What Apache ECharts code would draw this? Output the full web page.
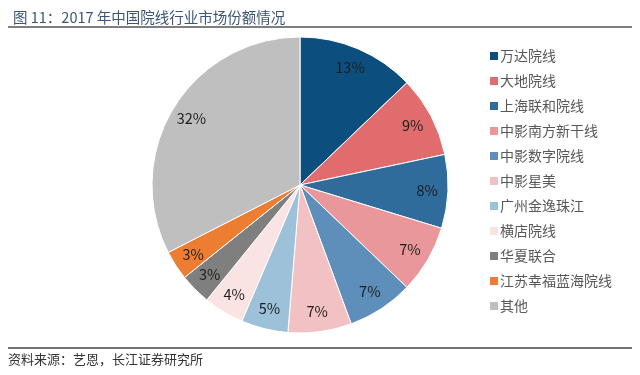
<!DOCTYPE html>
<html>
<head>
<meta charset="utf-8">
<script src="https://cdn.jsdelivr.net/npm/echarts@6/dist/echarts.min.js"></script>
<style>
html,body{margin:0;padding:0;background:#fff;}
#chart{width:640px;height:375px;}
</style>
</head>
<body>
<div id="chart"></div>
<script>
const categories = ['万达院线','大地院线','上海联和院线','中影南方新干线','中影数字院线','中影星美','广州金逸珠江','横店院线','华夏联合','江苏幸福蓝海院线','其他'];
const shares = [12.8, 8.8, 8.0, 7.4, 7.2, 6.9, 5.1, 4.4, 3.4, 3.2, 32.4];
const colors = ['#0c4e7d','#e06c6e','#2f6b9b','#e9979b','#5d8fba','#f2c1c3','#9dc1d9','#f9e3e3','#7f7f7f','#ec7d31','#bfbfbf'];
const titleText = '图 11：2017 年中国院线行业市场份额情况';
const sourceText = '资料来源：艺恩，长江证券研究所';

const font = '"Noto Sans CJK SC", "Noto Sans", sans-serif';
const pieData = categories.map((n, i) => ({name: n, value: shares[i], itemStyle: {color: colors[i]}}));
const labelData = categories.map((n, i) => ({name: n, value: shares[i]}));
const R = 148;

const chart = echarts.init(document.getElementById('chart'), null, {renderer: 'canvas'});
chart.setOption({
  animation: false,
  backgroundColor: '#fff',
  title: {
    text: titleText, left: 8, top: 5,
    textStyle: {fontSize: 14.5, fontWeight: 'normal', color: '#3b5574', fontFamily: font}
  },
  graphic: [
    {type: 'line', shape: {x1: 8, y1: 27, x2: 632, y2: 27}, style: {stroke: '#555', lineWidth: 1.5}},
    {type: 'line', shape: {x1: 8, y1: 348, x2: 632, y2: 348}, style: {stroke: '#444', lineWidth: 1.5}},
    {type: 'text', left: 8, top: 353, style: {text: sourceText, fill: '#333', font: '13px ' + font}}
  ],
  legend: {
    orient: 'vertical', left: 483, top: 44,
    itemWidth: 10, itemHeight: 10, itemGap: 11,
    icon: 'rect',
    data: categories,
    textStyle: {fontSize: 14, color: '#585858', fontFamily: font, padding: [0,0,0,-4], lineHeight: 14}
  },
  series: [
    {
      type: 'pie', name: 'share', center: [300, 185], radius: [0, R],
      startAngle: 90, clockwise: true, silent: true,
      itemStyle: {borderColor: '#fff', borderWidth: 1},
      label: {show: false}, labelLine: {show: false},
      data: pieData
    },
    {
      type: 'pie', name: 'labels', center: [300, 185], radius: [R * 0.68, R],
      startAngle: 90, clockwise: true, silent: true, legendHoverLink: false,
      itemStyle: {color: 'rgba(0,0,0,0)'},
      label: {
        show: true, position: 'inside', fontSize: 14.5, color: '#1e1e1e', fontFamily: font,
        formatter: p => Math.round(p.value) + '%'
      },
      labelLine: {show: false},
      data: labelData
    }
  ]
});
</script>
</body>
</html>
